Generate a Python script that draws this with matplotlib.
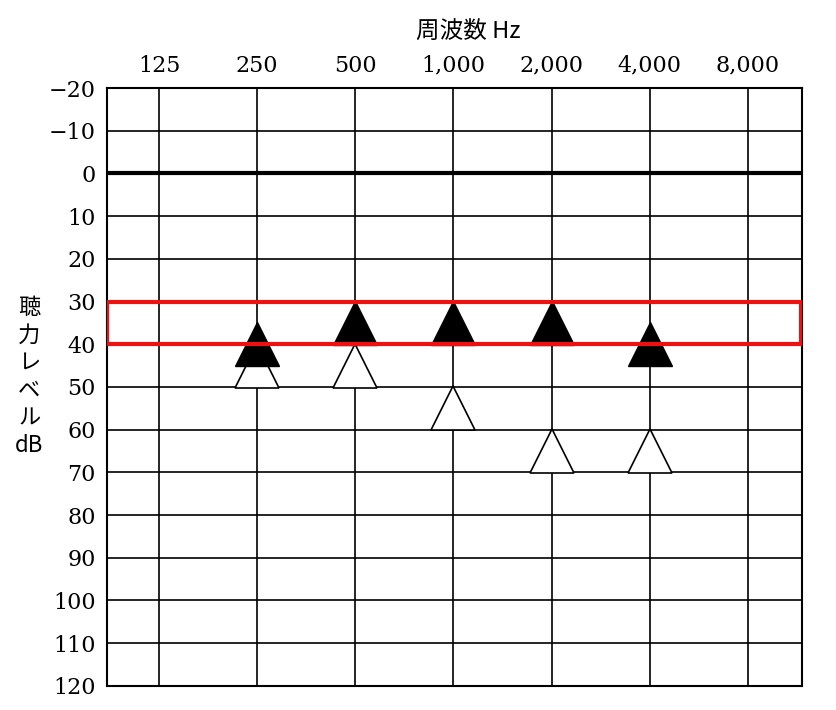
import numpy as np
import matplotlib.pyplot as plt
from matplotlib.patches import Rectangle

freqs = [125, 250, 500, 1000, 2000, 4000, 8000]
freq_labels = ['125', '250', '500', '1,000', '2,000', '4,000', '8,000']
db_ticks = list(range(-20, 121, 10))

air_freqs = [250, 500, 1000, 2000, 4000]
air_db = [45, 45, 55, 65, 65]        # 白い三角
bone_freqs = [250, 500, 1000, 2000, 4000]
bone_db = [40, 35, 35, 35, 40]       # 黒い三角

fig = plt.figure(figsize=(8.36, 7.10), dpi=100)
ax = fig.add_axes([0.128, 0.034, 0.831, 0.842])

x = np.log2(freqs)
ax.set_xlim(x[0] - 0.53, x[-1] + 0.55)
ax.set_ylim(120, -20)

for xv in x:
    ax.axvline(xv, color='black', lw=1.2, zorder=1)
for d in db_ticks:
    ax.axhline(d, color='black', lw=3 if d == 0 else 1.2, zorder=1)

ax.plot(np.log2(air_freqs), air_db, '^', ms=31, mfc='white', mec='black', mew=1.2, ls='none', zorder=3)
ax.plot(np.log2(bone_freqs), bone_db, '^', ms=31, mfc='black', mec='black', ls='none', zorder=4)

ax.add_patch(Rectangle((ax.get_xlim()[0], 30), ax.get_xlim()[1] - ax.get_xlim()[0] - 0.01, 10,
                       fill=False, ec='#ee1111', lw=3, zorder=5))

ax.set_xticks(x)
ax.set_xticklabels(freq_labels, fontfamily='DejaVu Serif', fontsize=16)
ax.xaxis.tick_top()
ax.set_yticks(db_ticks)
ax.set_yticklabels([str(d).replace('-', '−') for d in db_ticks], fontfamily='DejaVu Serif', fontsize=16)
ax.tick_params(length=0, pad=8)
for s in ax.spines.values():
    s.set_linewidth(1.5)

fig.text(0.56, 0.955, '周波数 Hz', ha='center', va='center', fontfamily='Noto Sans CJK JP', fontsize=17)
fig.text(0.035, 0.47, '聴\n力\nレ\nベ\nル\ndB', ha='center', va='center',
         fontfamily='Noto Sans CJK JP', fontsize=16, linespacing=1.25)

fig.savefig('out.png')
